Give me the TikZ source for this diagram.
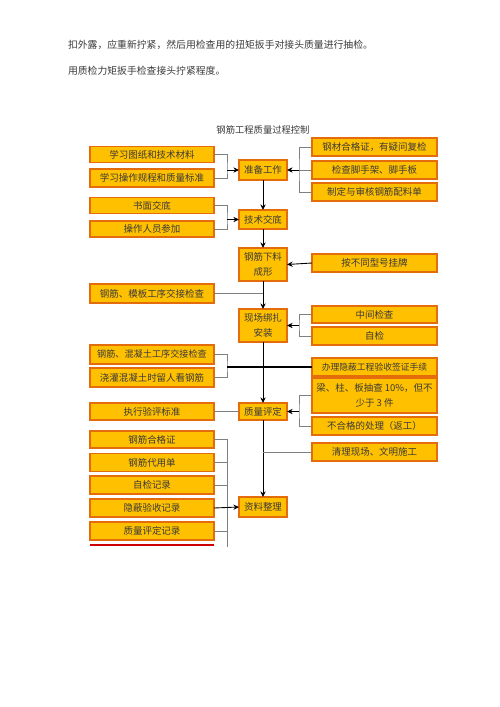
\documentclass[tikz,border=0pt]{standalone}
\usepackage{fontspec}
\setmainfont{Noto Sans CJK SC}
\usetikzlibrary{arrows.meta}
\definecolor{boxfill}{HTML}{FFC000}
\definecolor{boxline}{HTML}{E46C0A}
\definecolor{txt}{HTML}{3A3A3A}
\definecolor{conngray}{HTML}{808080}
\begin{document}
\begin{tikzpicture}[x=0.02cm,y=-0.02cm,
  every node/.style={inner sep=0pt,outer sep=0pt,text=txt},
  fbox/.style={draw=boxline,line width=0.6pt,fill=boxfill,font=\fontsize{5.4pt}{8.5pt}\selectfont,align=center},
  lbox/.style={fbox,minimum width=124*0.02cm},
  cbox/.style={fbox,minimum width=48*0.02cm},
  rbox/.style={fbox,minimum width=125*0.02cm},
  conn/.style={draw=conngray,line width=0.5pt},
  arr/.style={draw=black,line width=0.5pt,-{Stealth[length=3.2pt,width=3pt]}},
  plain/.style={font=\fontsize{5.6pt}{7pt}\selectfont,anchor=west}]
\useasboundingbox (0,0) rectangle (500,707);
\fill[white] (0,0) rectangle (500,707);

% top text
\node[plain] (t1) at (68,45) {扣外露，应重新拧紧，然后用检查用的扭矩扳手对接头质量进行抽检。};
\node[plain] (t2) at (68,71) {用质检力矩扳手检查接头拧紧程度。};
\node[font=\fontsize{5.3pt}{7pt}\selectfont] (title) at (263,130) {钢筋工程质量过程控制};

% left column
\node[lbox,minimum height=16*0.02cm] (L1) at (152,154.5) {学习图纸和技术材料};
\node[lbox,minimum height=18*0.02cm] (L2) at (152,178) {学习操作规程和质量标准};
\node[lbox,minimum height=16*0.02cm] (L3) at (152,205.5) {书面交底};
\node[lbox,minimum height=16*0.02cm] (L4) at (152,229) {操作人员参加};
\node[lbox,minimum height=19*0.02cm] (L5) at (152,293.5) {钢筋、模板工序交接检查};
\node[lbox,minimum height=19*0.02cm,font=\fontsize{5.2pt}{7pt}\selectfont] (L6) at (152,354.5) {钢筋、混凝土工序交接检查};
\node[lbox,minimum height=19*0.02cm] (L7) at (152,377.5) {浇灌混凝土时留人看钢筋};
\node[lbox,minimum height=17*0.02cm] (L8) at (152,411.5) {执行验评标准};
\node[lbox,minimum height=17*0.02cm] (L9) at (152,439.5) {钢筋合格证};
\node[lbox,minimum height=18*0.02cm] (L10) at (152,462.5) {钢筋代用单};
\node[lbox,minimum height=18*0.02cm] (L11) at (152,485) {自检记录};
\node[lbox,minimum height=18*0.02cm] (L12) at (152,508) {隐蔽验收记录};
\node[lbox,minimum height=18*0.02cm] (L13) at (152,531) {质量评定记录};

% center column
\node[cbox,minimum height=20*0.02cm] (C1) at (263,170) {准备工作};
\node[cbox,minimum height=19*0.02cm] (C2) at (263,219.5) {技术交底};
\node[cbox,minimum height=33*0.02cm] (C3) at (263,264.5) {钢筋下料\\成形};
\node[cbox,minimum height=33*0.02cm] (C4) at (263,325.5) {现场绑扎\\安装};
\node[cbox,minimum height=17*0.02cm] (C5) at (263,411.5) {质量评定};
\node[cbox,minimum height=20*0.02cm] (C6) at (263,507) {资料整理};

% right column
\node[rbox,minimum height=18*0.02cm] (R1) at (374.5,147) {钢材合格证，有疑问复检};
\node[rbox,minimum height=18*0.02cm] (R2) at (374.5,170) {检查脚手架、脚手板};
\node[rbox,minimum height=18*0.02cm] (R3) at (374.5,192) {制定与审核钢筋配料单};
\node[rbox,minimum height=18*0.02cm] (R4) at (374.5,263) {按不同型号挂牌};
\node[rbox,minimum height=17*0.02cm] (R5) at (374.5,314.5) {中间检查};
\node[rbox,minimum height=18*0.02cm] (R6) at (374.5,336) {自检};
\node[rbox,minimum height=18*0.02cm,font=\fontsize{5pt}{7pt}\selectfont] (R7) at (374.5,367) {办理隐蔽工程验收签证手续};
\node[rbox,minimum height=35*0.02cm] (R8) at (374.5,395.5) {梁、柱、板抽查 10\%，但不\\少于 3 件};
\node[rbox,minimum height=18*0.02cm] (R9) at (374.5,426) {不合格的处理（返工）};
\node[rbox,minimum height=18*0.02cm] (R10) at (374.5,452) {清理现场、文明施工};

% coordinates for buses
\coordinate (bA) at (227,170);
\coordinate (bB) at (299,170);
\coordinate (bC) at (227,219.5);
\coordinate (bD) at (299,325.5);
\coordinate (bE) at (227,367);
\coordinate (bF) at (299,411.5);
\coordinate (bG) at (227,507);
\coordinate (bEnd) at (227,547);
\coordinate (j5) at (263,293.5);
\coordinate (j10) at (263,452);

% prep work
\draw[conn] (L1.east) -| (bA) |- (L2.east);
\draw[arr] (bA) -- (C1.west);
\draw[conn] (R1.west) -| (bB) |- (R3.west);
\draw[conn] (R2.west) -- (bB);
\draw[arr] (bB) -- (C1.east);
\draw[arr] (C1.south) -- (C2.north);
% tech
\draw[conn] (L3.east) -| (bC) |- (L4.east);
\draw[arr] (bC) -- (C2.west);
\draw[arr] (C2.south) -- (C3.north);
\draw[arr] (R4.west) -- (C3.east);
% binding
\draw[arr] (C3.south) -- (C4.north);
\draw[conn] (L5.east) -- (j5);
\draw[conn] (R5.west) -| (bD) |- (R6.west);
\draw[arr] (bD) -- (C4.east);
% quality
\draw[arr] (C4.south) -- (C5.north);
\draw[conn] (L6.east) -| (bE) |- (L7.east);
\draw[draw=black,line width=0.6pt] (bE) -- (R7.west);
\draw[conn] (R8.west) -| (bF) |- (R9.west);
\draw[arr] (bF) -- (C5.east);
\draw[conn] (L8.east) -- (C5.west);
% documents
\draw[arr] (C5.south) -- (C6.north);
\draw[conn] (R10.west) -- (j10);
\draw[conn] (L9.east) -| (bEnd);
\draw[conn] (L10.east) -- (L10.east -| bG);
\draw[conn] (L11.east) -- (L11.east -| bG);
\draw[conn] (L13.east) -- (L13.east -| bG);
\draw[arr] (L12.east) -- (C6.west);
\draw[draw=red!80!black,line width=0.6pt] (90,545) -- (214,545);
\end{tikzpicture}
\end{document}
